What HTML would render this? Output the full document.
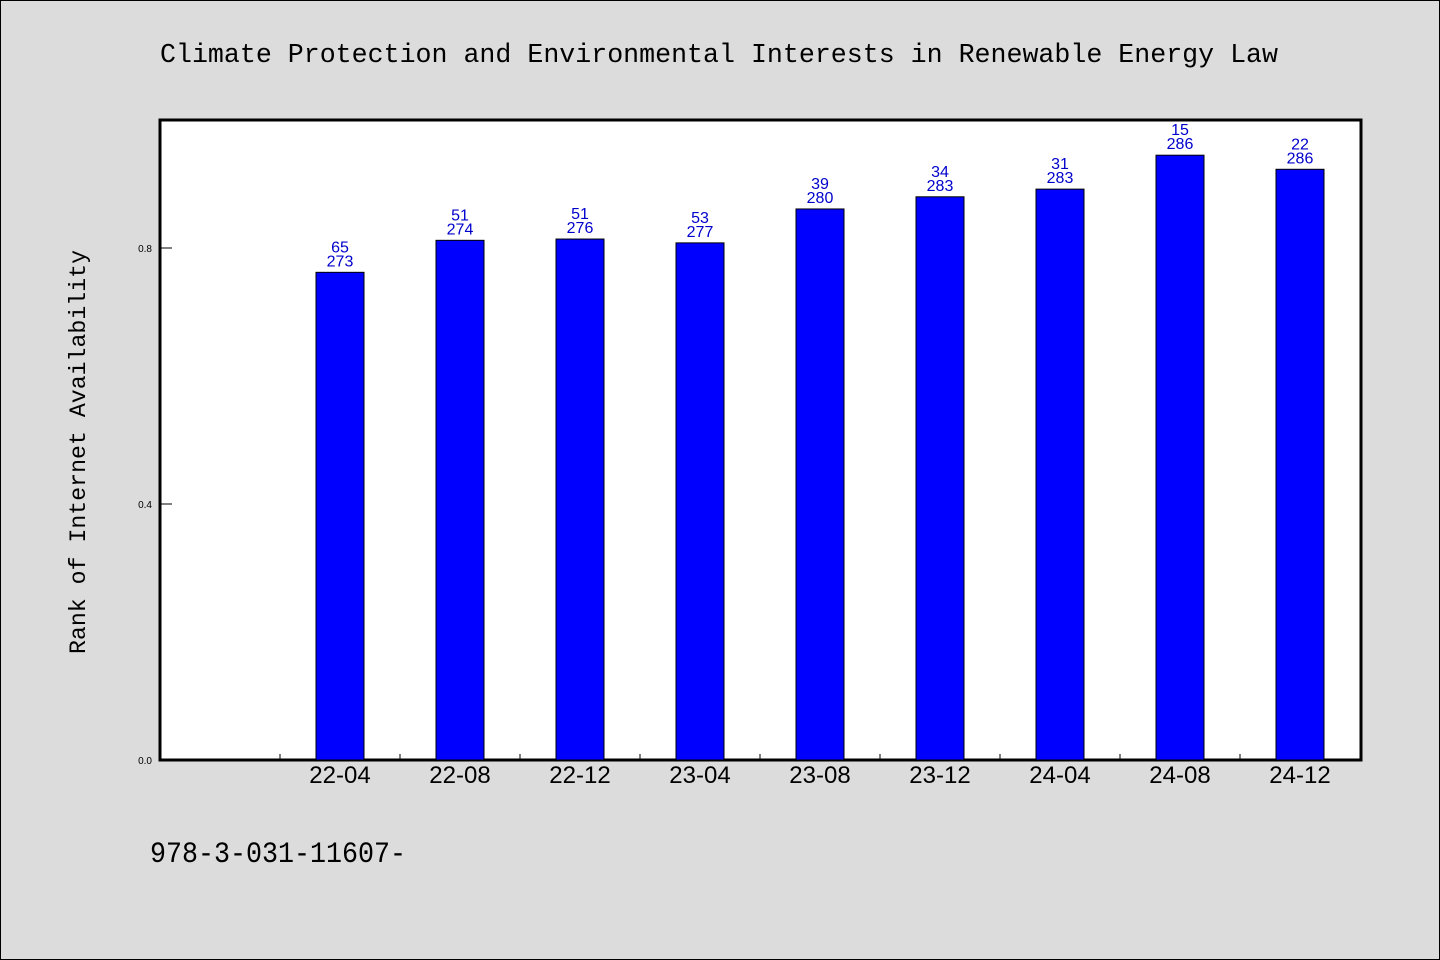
<!DOCTYPE html>
<html><head><meta charset="utf-8"><style>
html,body{margin:0;padding:0;background:#dcdcdc;}
svg{display:block;font-family:"Liberation Sans","WenQuanYi Zen Hei",sans-serif;}
</style></head><body>
<svg width="1440" height="960" viewBox="0 0 1440 960">
<rect x="0.5" y="0.5" width="1439" height="959" fill="#dcdcdc" stroke="#000"/>
<text x="160" y="62" font-size="27" textLength="1118" lengthAdjust="spacingAndGlyphs" font-family="'Liberation Mono','WenQuanYi Zen Hei',monospace">Climate Protection and Environmental Interests in Renewable Energy Law</text>
<rect x="160" y="120" width="1201" height="640" fill="#fff" stroke="#000" stroke-width="3"/>
<text transform="translate(85,452) rotate(-90)" text-anchor="middle" font-size="23" textLength="404" lengthAdjust="spacingAndGlyphs" font-family="'Liberation Mono','WenQuanYi Zen Hei',monospace">Rank of Internet Availability</text>
<text x="150" y="862" font-size="30" textLength="256" lengthAdjust="spacingAndGlyphs" font-family="'Liberation Mono','WenQuanYi Zen Hei',monospace">978-3-031-11607-</text>
<g id="g"></g>
</svg>
<script>
const categories=["22-04","22-08","22-12","23-04","23-08","23-12","24-04","24-08","24-12"];
const values=[0.762,0.812,0.814,0.808,0.861,0.880,0.892,0.945,0.923];
const labelsTop=["65","51","51","53","39","34","31","15","22"];
const labelsBottom=["273","274","276","277","280","283","283","286","286"];
const yTicks=[0.0,0.4,0.8];
const yTickLabels=["0.0","0.4","0.8"];
const NS="http://www.w3.org/2000/svg";
const g=document.getElementById('g');
const x0=160,slot=120,yBase=760,yTop=120,yMax=1.0;
const y=v=>yBase-(v/yMax)*(yBase-yTop);
const xc=i=>x0+slot*(i+1)+slot/2;
function mk(t,a){const e=document.createElementNS(NS,t);for(const k in a)e.setAttribute(k,a[k]);g.appendChild(e);return e;}
yTicks.forEach((v,i)=>{
 const l=mk('line',{x1:160,x2:172,y1:y(v),y2:y(v),stroke:'#000','stroke-width':1});
 
 
 const t=mk('text',{x:152,y:y(v)+4,'text-anchor':'end','font-size':10});
 t.textContent=yTickLabels[i];
 
 
});
categories.forEach((c,i)=>{
 const tk=mk('line',{x1:x0+slot*(i+1),x2:x0+slot*(i+1),y1:754,y2:760,stroke:'#000','stroke-width':1});
 
 
 const b=mk('rect',{x:xc(i)-24,y:y(values[i]),width:48,height:yBase-y(values[i]),fill:'#0000ff',stroke:'#000','stroke-width':1});
 
 
 const t1=mk('text',{x:xc(i),y:y(values[i])-20,'text-anchor':'middle','font-size':16,fill:'#0000cc'});
 t1.textContent=labelsTop[i];
 
 
 const t2=mk('text',{x:xc(i),y:y(values[i])-6,'text-anchor':'middle','font-size':16,fill:'#0000cc'});
 t2.textContent=labelsBottom[i];
 
 
 const xl=mk('text',{x:xc(i),y:783,'text-anchor':'middle','font-size':24});
 xl.textContent=c;
 
 
});
</script>
</body></html>
